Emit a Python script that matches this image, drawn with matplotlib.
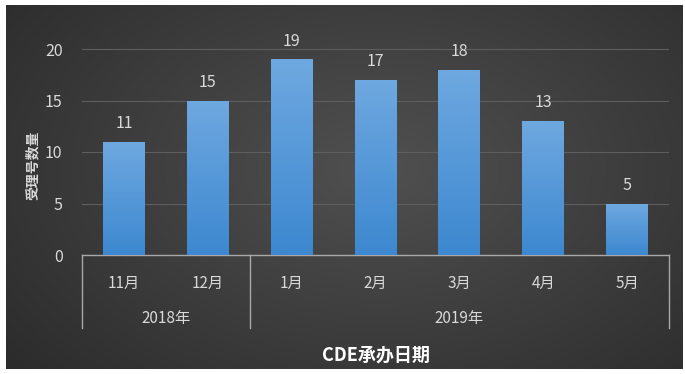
import numpy as np
import matplotlib
matplotlib.use('Agg')
import matplotlib.pyplot as plt
from matplotlib.colors import LinearSegmentedColormap

plt.rcParams['font.family'] = ['Noto Sans CJK SC', 'DejaVu Sans']

# data
months = ['11月', '12月', '1月', '2月', '3月', '4月', '5月']
counts = [11, 15, 19, 17, 18, 13, 5]
years = ['2018年', '2019年']
year_spans = [(0, 1), (2, 6)]   # first and last month index of each year
y_ticks = [0, 5, 10, 15, 20]

text_col = '#d9d9d9'

fig = plt.figure(figsize=(6.85, 3.74), dpi=100, facecolor='white')

# dark gradient background panel
bg = fig.add_axes([6 / 685, 5 / 374, 677 / 685, 364 / 374])
bg.set_axis_off()
gx, gy = np.meshgrid(np.linspace(0, 1, 300), np.linspace(0, 1, 200))
r = np.sqrt(((gx - 0.55) / 0.75) ** 2 + ((gy - 0.45) / 0.9) ** 2)
bg_cmap = LinearSegmentedColormap.from_list('bg', ['#505050', '#2a2a2a'])
bg.imshow(np.clip(r, 0, 1), cmap=bg_cmap, aspect='auto', extent=[0, 1, 0, 1],
          vmin=0, vmax=1)

ax = fig.add_axes([82 / 685, 1 - 255 / 374, 587 / 685, 226.6 / 374])
ax.patch.set_alpha(0)

x = np.arange(len(months))
bars = ax.bar(x, counts, width=0.5, color='#5b9bd5', zorder=2)

# vertical gradient inside each bar
bar_cmap = LinearSegmentedColormap.from_list('bar', ['#3d88d0', '#6ea8e0'])
grad = np.linspace(0, 1, 100).reshape(-1, 1)
for b in bars:
    x0, w, h = b.get_x(), b.get_width(), b.get_height()
    im = ax.imshow(grad, cmap=bar_cmap, origin='lower', aspect='auto',
                   extent=[x0, x0 + w, 0, h], zorder=3)
    im.set_clip_path(b)

for xi, v in zip(x, counts):
    ax.annotate(str(v), (xi, v), xytext=(0, 7), textcoords='offset points',
                ha='center', va='bottom', color=text_col, fontsize=11.5)

ax.set_xlim(-0.5, len(months) - 0.5)
ax.set_ylim(0, 22)
ax.set_yticks(y_ticks)
ax.yaxis.grid(True, color='#5e5e5e', linewidth=0.8, zorder=0)
ax.set_axisbelow(True)

ax.set_xticks(x)
ax.set_xticklabels(months)
ax.tick_params(axis='x', length=0, pad=14, colors=text_col, labelsize=11)
ax.tick_params(axis='y', length=0, pad=14, colors=text_col, labelsize=11.5)

for s in ['top', 'right', 'left']:
    ax.spines[s].set_visible(False)
ax.spines['bottom'].set_color('#a8a8a8')
ax.spines['bottom'].set_linewidth(1.0)

# year group separators and labels
trans = ax.get_xaxis_transform()
sep_depth = -73 / 226.6
seps = [-0.5] + [end + 0.5 for _, end in year_spans]
for s in seps:
    ax.plot([s, s], [0, sep_depth], transform=trans, color='#a8a8a8',
            linewidth=1.0, clip_on=False)
for name, (a, b) in zip(years, year_spans):
    ax.text((a + b) / 2, -63 / 226.6, name, transform=trans, ha='center',
            va='center', color=text_col, fontsize=11)

fig.text(375.5 / 685, 1 - 355 / 374, 'CDE承办日期', ha='center', va='center',
         color='white', fontsize=13, fontweight='bold')
fig.text(33 / 685, 1 - 165 / 374, '受理号数量', ha='center', va='center',
         rotation=90, color=text_col, fontsize=10, fontweight='bold')

fig.savefig('out.png', dpi=100, facecolor='white')
